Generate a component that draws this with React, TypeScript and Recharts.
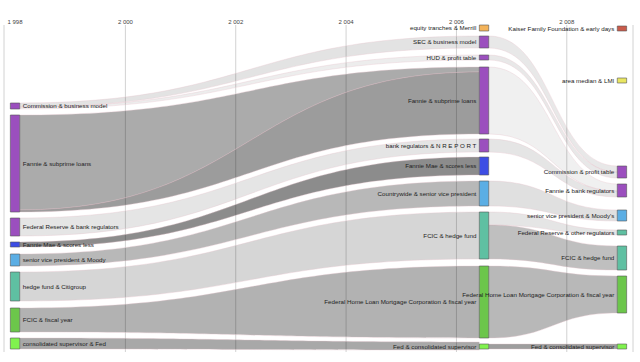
import { ComposedChart, Area, XAxis, YAxis, CartesianGrid, ReferenceArea } from 'recharts'

// years shown on the top axis
const yearTicks = [1998, 2000, 2002, 2004, 2006, 2008]
// year of each column of topics
const columnYears = [1998, 2006.5, 2009]

// topics (nodes)
const nodeNames = [
  'Commission & business model',
  'Fannie & subprime loans',
  'Federal Reserve & bank regulators',
  'Fannie Mae & scores less',
  'senior vice president & Moody',
  'hedge fund & Citigroup',
  'FCIC & fiscal year',
  'consolidated supervisor & Fed',
  'equity tranches & Merrill',
  'SEC & business model',
  'HUD & profit table',
  'Fannie & subprime loans',
  'bank regulators & N R E P O R T',
  'Fannie Mae & scores less',
  'Countrywide & senior vice president',
  'FCIC & hedge fund',
  'Federal Home Loan Mortgage Corporation & fiscal year',
  'Fed & consolidated supervisor',
  'Kaiser Family Foundation & early days',
  'area median & LMI',
  'Commission & profit table',
  'Fannie & bank regulators',
  "senior vice president & Moody's",
  'Federal Reserve & other regulators',
  'FCIC & hedge fund',
  'Federal Home Loan Mortgage Corporation & fiscal year',
  'Fed & consolidated supervisor',
]
const nodeColumn = [0, 0, 0, 0, 0, 0, 0, 0, 1, 1, 1, 1, 1, 1, 1, 1, 1, 1, 2, 2, 2, 2, 2, 2, 2, 2, 2]
const nodeTopic = [0, 0, 0, 1, 2, 3, 4, 5, 6, 0, 0, 0, 0, 1, 2, 3, 4, 5, 7, 8, 0, 0, 2, 3, 3, 4, 5]
// stacked weight range of each topic
const nodeStart = [78, 90, 193, 217, 229, 247, 283, 313, 0, 11, 30, 42, 114, 132, 156, 187, 241, 319, 1, 53, 141, 159, 185, 205, 221, 251, 319]
const nodeEnd = [84, 187, 211, 222, 241, 276, 307, 324, 6, 23, 35, 109, 127, 150, 181, 234, 313, 324, 6, 58, 153, 172, 196, 210, 245, 288, 324]

// flows between topics
const flowSource = [0, 0, 1, 1, 2, 3, 4, 5, 6, 7, 9, 10, 11, 12, 14, 15, 15, 16, 17]
const flowTarget = [9, 10, 11, 11, 12, 13, 14, 15, 16, 17, 20, 20, 21, 21, 22, 23, 24, 25, 26]
const flowSourceBand = [
  [78, 82], [82, 84], [90, 185], [185, 187], [193, 211], [217, 222], [229, 241], [247, 276], [283, 307], [313, 324],
  [11, 23], [30, 35], [42, 109], [114, 127], [156, 181], [187, 200], [200, 234], [241, 313], [319, 324],
]
const flowTargetBand = [
  [11, 23], [30, 35], [42, 47], [47, 109], [114, 127], [132, 150], [156, 181], [187, 234], [241, 313], [317, 325],
  [141, 147], [147, 153], [159, 166], [166, 172], [185, 196], [205, 210], [221, 245], [251, 288], [319, 324],
]
const flowStrength = [0.11, 0.07, 0.33, 0.39, 0.1, 0.45, 0.28, 0.16, 0.3, 0.34, 0.09, 0.09, 0.06, 0.1, 0.12, 0.1, 0.25, 0.28, 0.38]

const TOPIC_COLORS = ['#9b4fbe', '#3d4de4', '#5baee4', '#5fc0a2', '#6cc64b', '#80f24e', '#f3b35a', '#c95b4b', '#e9e662']
const NODE_HALF = 0.085
const FONT = '"Liberation Sans", Arial, sans-serif'

const flows = flowSource.map((s, i) => ({
  key: `flow-${i}`,
  opacity: flowStrength[i],
  data: [
    { year: columnYears[nodeColumn[s]] + NODE_HALF, band: flowSourceBand[i] },
    { year: columnYears[nodeColumn[flowTarget[i]]] - NODE_HALF, band: flowTargetBand[i] },
  ],
}))

// draw the right column first so the middle nodes sit over its long labels
const nodeOrder = nodeNames.map((_, i) => i).sort((a, b) => nodeColumn[b] - nodeColumn[a])

const fmtYear = (v: number) => String(v).replace(/^(\d)(\d{3})$/, '$1 $2')

export default function App() {
  return (
    <div style={{ position: 'absolute', left: 0, top: 0, background: '#fff', fontFamily: FONT }}>
      <ComposedChart width={640} height={362} margin={{ top: 0, right: 7, bottom: 10, left: 4 }}>
        <CartesianGrid vertical horizontal={false} stroke="#d2d2d2" />
        <XAxis
          xAxisId={0}
          type="number"
          dataKey="year"
          orientation="top"
          height={25}
          domain={[1997.8, 2009.2]}
          ticks={yearTicks}
          tickFormatter={fmtYear}
          axisLine={false}
          tickLine={false}
          tickSize={0}
          tickMargin={1.5}
          tick={{ fontSize: 6, fill: '#444', fontFamily: FONT }}
          allowDataOverflow
        />
        <YAxis yAxisId={0} type="number" hide reversed domain={[0, 327]} allowDataOverflow />

        {flows.map(f => (
          <Area
            key={f.key}
            data={f.data}
            dataKey="band"
            type="bumpX"
            fill="#000"
            fillOpacity={f.opacity}
            stroke="#e6c3cb"
            strokeOpacity={0.7}
            strokeWidth={0.5}
            dot={false}
            activeDot={false}
            isAnimationActive={false}
          />
        ))}

        {nodeOrder.map(i => {
          const col = nodeColumn[i]
          const yr = columnYears[col]
          return (
            <ReferenceArea
              key={`node-${i}`}
              x1={yr - NODE_HALF}
              x2={yr + NODE_HALF}
              y1={nodeStart[i]}
              y2={nodeEnd[i]}
              fill={TOPIC_COLORS[nodeTopic[i]]}
              fillOpacity={1}
              stroke="#555"
              strokeWidth={0.6}
              ifOverflow="visible"
              label={{
                value: nodeNames[i],
                position: col === 0 ? 'right' : 'left',
                offset: 3,
                fontSize: 6.2,
                fill: '#222',
                fontFamily: FONT,
              }}
            />
          )
        })}
      </ComposedChart>
    </div>
  )
}
